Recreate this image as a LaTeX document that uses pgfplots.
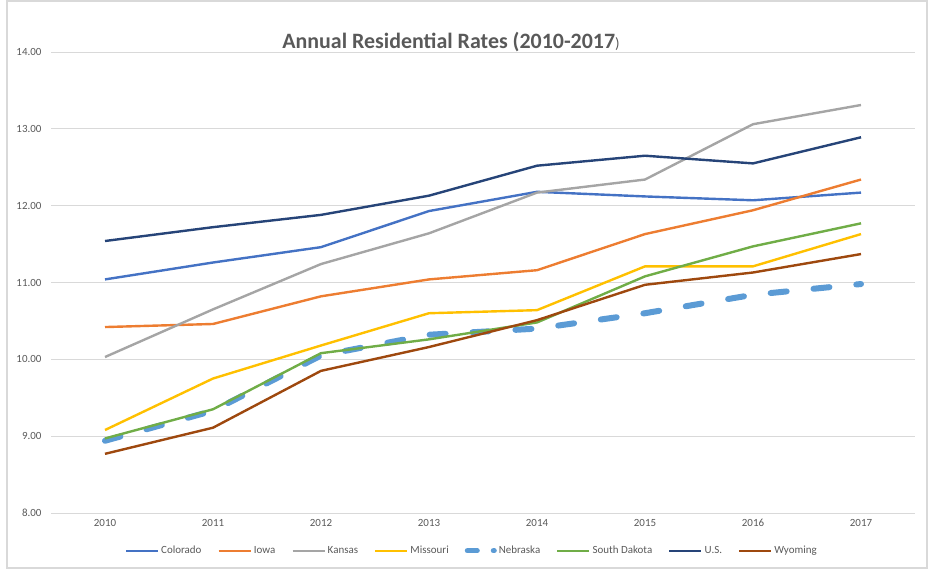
\documentclass[border=0pt]{standalone}
\usepackage{pgfplots}
\pgfplotsset{compat=1.18}
\usepackage{fontspec}
\setmainfont{Carlito}
\definecolor{cCO}{HTML}{4472C4}
\definecolor{cIA}{HTML}{ED7D31}
\definecolor{cKS}{HTML}{A5A5A5}
\definecolor{cMO}{HTML}{FFC000}
\definecolor{cNE}{HTML}{5B9BD5}
\definecolor{cSD}{HTML}{70AD47}
\definecolor{cUS}{HTML}{264478}
\definecolor{cWY}{HTML}{9E480E}
\definecolor{gridc}{HTML}{D9D9D9}
\definecolor{txtc}{HTML}{595959}
\begin{document}
\begin{tikzpicture}[x=1bp,y=1bp]
\useasboundingbox (0,0) rectangle (930,572);
\draw[color=gridc, line width=1.2bp] (7,4) rectangle (927,571);
\begin{axis}[
  at={(51bp,59bp)}, anchor=south west, scale only axis,
  width=864bp, height=461bp,
  xmin=2009.5, xmax=2017.5, ymin=8, ymax=14,
  xtick={2010,2011,2012,2013,2014,2015,2016,2017},
  ytick={8,9,10,11,12,13,14},
  ymajorgrids, grid style={color=gridc, line width=0.9bp},
  axis line style={draw=none}, tick style={draw=none},
  /pgf/number format/assume math mode=true,
  ticklabel style={font=\fontsize{11}{13}\selectfont, text=txtc},
  xticklabel style={/pgf/number format/1000 sep={}, yshift=-3bp},
  yticklabel style={/pgf/number format/fixed, /pgf/number format/fixed zerofill, /pgf/number format/precision=2, xshift=-6bp},
  legend columns=-1,
  legend style={at={(0.487,-0.082)}, anchor=center, draw=none, fill=none,
    font=\fontsize{11}{13}\selectfont, text=txtc,
    /tikz/every even column/.append style={column sep=14bp},
    inner sep=0pt},
  legend image code/.code={\draw[#1] (0bp,0bp) -- (32bp,0bp);},
  every axis plot/.append style={line width=2.4bp, line join=round},
]
\addplot[color=cCO] coordinates {(2010,11.04) (2011,11.26) (2012,11.46) (2013,11.93) (2014,12.18) (2015,12.12) (2016,12.07) (2017,12.17)};
\addlegendentry{Colorado}
\addplot[color=cIA] coordinates {(2010,10.42) (2011,10.46) (2012,10.82) (2013,11.04) (2014,11.16) (2015,11.63) (2016,11.94) (2017,12.34)};
\addlegendentry{Iowa}
\addplot[color=cKS] coordinates {(2010,10.03) (2011,10.65) (2012,11.24) (2013,11.64) (2014,12.17) (2015,12.34) (2016,13.06) (2017,13.31)};
\addlegendentry{Kansas}
\addplot[color=cMO] coordinates {(2010,9.08) (2011,9.75) (2012,10.18) (2013,10.60) (2014,10.64) (2015,11.21) (2016,11.21) (2017,11.63)};
\addlegendentry{Missouri}
\addplot[color=cNE, line width=6bp, line cap=round, dash pattern=on 16bp off 27bp,
  legend image code/.code={\draw[color=cNE, line width=5bp, line cap=round, dash pattern=on 10bp off 16bp] (2.5bp,0bp) -- (29.5bp,0bp);}] coordinates {(2010,8.94) (2011,9.33) (2012,10.05) (2013,10.32) (2014,10.40) (2015,10.60) (2016,10.84) (2017,10.98)};
\addlegendentry{Nebraska}
\addplot[color=cSD] coordinates {(2010,8.97) (2011,9.35) (2012,10.08) (2013,10.26) (2014,10.48) (2015,11.08) (2016,11.47) (2017,11.77)};
\addlegendentry{South Dakota}
\addplot[color=cUS] coordinates {(2010,11.54) (2011,11.72) (2012,11.88) (2013,12.13) (2014,12.52) (2015,12.65) (2016,12.55) (2017,12.89)};
\addlegendentry{U.S.}
\addplot[color=cWY] coordinates {(2010,8.77) (2011,9.11) (2012,9.85) (2013,10.16) (2014,10.51) (2015,10.97) (2016,11.13) (2017,11.37)};
\addlegendentry{Wyoming}
\end{axis}
\node[text=txtc, font=\fontsize{22}{26}\selectfont] at (451,530) {\textbf{Annual Residential Rates (2010-2017}{\fontsize{15}{18}\selectfont)}};
\end{tikzpicture}
\end{document}
